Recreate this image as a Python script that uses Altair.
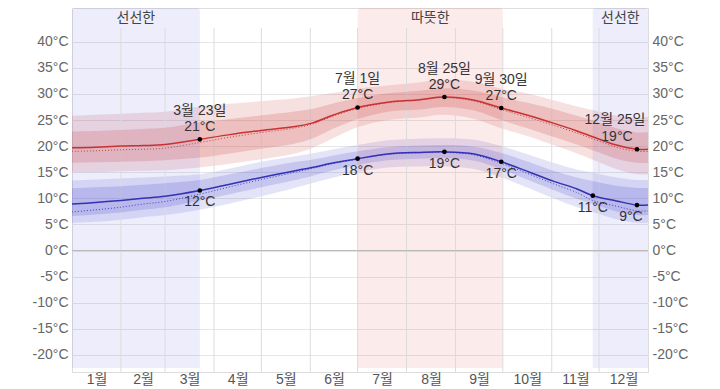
import altair as alt
import pandas as pd

# ---- data (day of year, 0 = 1월 1일) ----
days = [0, 15, 31, 45, 59, 81, 100, 120, 140, 152, 166, 181, 200, 220, 236, 255, 272, 290, 305, 320, 330, 345, 358, 365]

hi     = [19.7, 19.8, 20.0, 20.1, 20.3, 21.3, 22.2, 23.0, 23.7, 24.4, 26.0, 27.4, 28.4, 28.9, 29.4, 28.8, 27.3, 25.8, 24.4, 22.9, 21.8, 20.2, 19.4, 19.4]
hi_dot = [19.0, 19.1, 19.3, 19.4, 19.6, 20.7, 21.7, 22.6, 23.4, 24.2, 25.8, 27.2, 28.3, 28.8, 29.3, 28.6, 27.0, 25.4, 24.0, 22.5, 21.4, 19.8, 19.0, 19.0]
hi_p90 = [25.8, 26.0, 26.2, 26.4, 26.6, 27.6, 28.1, 28.6, 29.1, 29.6, 30.2, 31.0, 31.6, 32.2, 32.7, 32.3, 31.0, 30.0, 28.8, 27.6, 26.9, 25.8, 25.4, 25.6]
hi_p75 = [22.8, 22.9, 23.1, 23.3, 23.5, 24.5, 25.2, 25.9, 26.6, 27.1, 28.2, 29.2, 30.1, 30.6, 31.1, 30.6, 29.4, 28.2, 27.1, 25.8, 24.9, 23.4, 22.6, 22.7]
hi_p25 = [16.8, 16.9, 17.0, 17.1, 17.3, 17.8, 18.6, 19.5, 20.4, 21.4, 23.4, 25.2, 26.6, 27.0, 27.5, 26.8, 25.0, 23.3, 21.8, 20.3, 19.2, 17.6, 16.8, 16.8]
hi_p10 = [15.0, 15.0, 15.2, 15.3, 15.4, 15.9, 16.6, 17.5, 18.5, 19.6, 21.6, 23.6, 25.0, 25.5, 26.0, 25.2, 23.4, 21.8, 20.2, 18.6, 17.4, 15.6, 14.6, 14.6]

lo     = [8.9, 9.2, 9.6, 10.0, 10.4, 11.5, 12.7, 14.0, 15.2, 15.9, 16.8, 17.6, 18.5, 18.8, 18.9, 18.5, 17.0, 15.0, 13.3, 11.8, 10.5, 9.5, 8.7, 8.7]
lo_dot = [7.4, 7.8, 8.3, 8.9, 9.4, 10.8, 12.2, 13.6, 14.9, 15.7, 16.7, 17.5, 18.4, 18.7, 18.8, 18.3, 16.7, 14.6, 12.8, 11.1, 9.6, 8.5, 7.6, 7.6]
lo_p90 = [13.4, 13.6, 13.8, 14.0, 14.2, 14.6, 15.7, 17.0, 18.0, 18.6, 19.4, 20.2, 21.1, 21.4, 21.5, 21.2, 20.0, 18.3, 16.8, 15.5, 14.9, 14.0, 13.5, 13.5]
lo_p75 = [11.9, 12.1, 12.3, 12.6, 12.9, 13.5, 14.6, 15.8, 16.9, 17.4, 18.2, 19.0, 19.8, 20.1, 20.2, 19.9, 18.7, 16.9, 15.3, 14.0, 13.3, 12.4, 12.0, 12.0]
lo_p25 = [6.6, 6.9, 7.3, 7.8, 8.3, 9.6, 10.8, 12.1, 13.4, 14.3, 15.4, 16.4, 17.3, 17.6, 17.7, 17.2, 15.6, 13.4, 11.6, 9.9, 8.9, 7.5, 6.8, 6.8]
lo_p10 = [5.3, 5.5, 5.9, 6.4, 6.8, 7.8, 9.0, 10.4, 11.9, 12.9, 14.0, 15.0, 15.9, 16.1, 16.1, 15.6, 14.0, 11.9, 10.0, 8.3, 7.4, 6.0, 5.3, 5.3]

# annotations
hi_ann_day  = [81, 181, 236, 272, 358]
hi_ann_val  = [21.3, 27.4, 29.4, 27.3, 19.4]
hi_ann_date = ["3월 23일", "7월 1일", "8월 25일", "9월 30일", "12월 25일"]
hi_ann_temp = ["21°C", "27°C", "29°C", "27°C", "19°C"]
lo_ann_day  = [81, 181, 236, 272, 330, 358]
lo_ann_val  = [11.5, 17.6, 18.9, 17.0, 10.5, 8.7]
lo_ann_temp = ["12°C", "18°C", "19°C", "17°C", "11°C", "9°C"]

# seasons
season_start = [0, 181, 330]
season_end   = [81, 273, 365]
season_name  = ["선선한", "따뜻한", "선선한"]
season_kind  = ["cool", "warm", "cool"]

# months
month_labels = ["1월", "2월", "3월", "4월", "5월", "6월", "7월", "8월", "9월", "10월", "11월", "12월"]
month_mid = [15.5, 45, 74.5, 105, 135.5, 166, 196.5, 227.5, 258, 288.5, 319, 349.5]
month_bounds = [31, 59, 90, 120, 151, 181, 212, 243, 273, 304, 334]
y_ticks = [-20, -15, -10, -5, 0, 5, 10, 15, 20, 25, 30, 35, 40]

# ---- tables ----
df = pd.DataFrame(dict(day=days, hi=hi, hi_dot=hi_dot, hi_p90=hi_p90, hi_p75=hi_p75,
                       hi_p25=hi_p25, hi_p10=hi_p10, lo=lo, lo_dot=lo_dot, lo_p90=lo_p90,
                       lo_p75=lo_p75, lo_p25=lo_p25, lo_p10=lo_p10))
hi_ann = pd.DataFrame(dict(day=hi_ann_day, val=hi_ann_val, date=hi_ann_date, temp=hi_ann_temp))
lo_ann = pd.DataFrame(dict(day=lo_ann_day, val=lo_ann_val, temp=lo_ann_temp))
seasons = pd.DataFrame(dict(start=season_start, end=season_end, name=season_name, kind=season_kind))
seasons["mid"] = (seasons["start"] + seasons["end"]) / 2
bounds = pd.DataFrame(dict(day=month_bounds))
zero = pd.DataFrame(dict(v=[0]))

W, H = 576, 364
xs = alt.Scale(domain=[0, 365], nice=False, zero=False)
ys = alt.Scale(domain=[-23.26, 46.45], nice=False, zero=False)

FONT = "Liberation Sans, Arial, Noto Sans CJK KR"
month_expr = "[" + ",".join("'%s'" % m for m in month_labels) + "]"
mid_expr = "[" + ",".join(str(m) for m in month_mid) + "]"

x_axis = alt.Axis(values=month_mid, labelExpr=f"{month_expr}[indexof({mid_expr}, datum.value)]",
                  ticks=False, domain=False, grid=False, labelFontSize=14, labelColor="#555",
                  labelPadding=0, title=None, labelFont=FONT, orient="bottom")
left_axis = alt.Axis(values=y_ticks, labelExpr="datum.value + '°C'", ticks=False, domain=False,
                     grid=True, gridColor="#e6e6e6", labelFontSize=14, labelColor="#666",
                     labelPadding=4, title=None, orient="left", labelFont=FONT)
right_axis = alt.Axis(values=y_ticks, labelExpr="datum.value + '°C'", ticks=False, domain=False,
                      grid=False, labelFontSize=14, labelColor="#666", labelPadding=4,
                      title=None, orient="right", labelFont=FONT)

INTERP = "catmull-rom"
base = alt.Chart(df)

season_rect = alt.Chart(seasons).mark_rect(cornerRadiusTopLeft=3, cornerRadiusTopRight=3).encode(
    x=alt.X("start:Q", scale=xs, axis=None), x2="end:Q",
    y=alt.value(0), y2=alt.value(360),
    color=alt.Color("kind:N", scale=alt.Scale(domain=["cool", "warm"], range=["#5050e6", "#e63c3c"]), legend=None),
    opacity=alt.value(0.1),
)
season_text = alt.Chart(seasons).mark_text(fontSize=14, color="#444", font=FONT, baseline="middle").encode(
    x=alt.X("mid:Q", scale=xs, axis=None), y=alt.value(10), text="name:N")

vgrid = alt.Chart(bounds).mark_rule(color="#dcdcdc", strokeWidth=1).encode(
    x=alt.X("day:Q", scale=xs, axis=None), y=alt.value(20), y2=alt.value(H))
zero_rule = alt.Chart(zero).mark_rule(color="#b8b8b8", strokeWidth=1).encode(
    y=alt.Y("v:Q", scale=ys, axis=None), x=alt.value(0), x2=alt.value(W))

def band(lo_f, hi_f, color, op, axis=None):
    return base.mark_area(interpolate=INTERP, color=color, opacity=op).encode(
        x=alt.X("day:Q", scale=xs, axis=None),
        y=alt.Y(f"{lo_f}:Q", scale=ys, axis=axis), y2=f"{hi_f}:Q")

def line(field, color, width, dash=None, axis_x=None):
    kw = dict(interpolate=INTERP, color=color, strokeWidth=width)
    if dash:
        kw["strokeDash"] = dash
    return base.mark_line(**kw).encode(
        x=alt.X("day:Q", scale=xs, axis=axis_x),
        y=alt.Y(f"{field}:Q", scale=ys, axis=None))

red_outer = band("hi_p10", "hi_p90", "#d04848", 0.17, axis=left_axis)
red_inner = band("hi_p25", "hi_p75", "#c83c3c", 0.2)
blue_outer = band("lo_p10", "lo_p90", "#4848d0", 0.15, axis=right_axis)
blue_inner = band("lo_p25", "lo_p75", "#3c3cc8", 0.18)

red_dot = line("hi_dot", "#c84040", 1, dash=[1, 2])
blue_dot = line("lo_dot", "#4040c0", 1, dash=[1, 2])
red_line = line("hi", "#c83232", 1.5, axis_x=x_axis)
blue_line = line("lo", "#3232b4", 1.5)

hi_pts = alt.Chart(hi_ann).mark_point(filled=True, color="black", size=22, opacity=1).encode(
    x=alt.X("day:Q", scale=xs, axis=None), y=alt.Y("val:Q", scale=ys, axis=None))
lo_pts = alt.Chart(lo_ann).mark_point(filled=True, color="black", size=22, opacity=1).encode(
    x=alt.X("day:Q", scale=xs, axis=None), y=alt.Y("val:Q", scale=ys, axis=None))

def txt(data, field, dy, dx=0):
    return alt.Chart(data).mark_text(fontSize=14, color="#333", font=FONT, baseline="middle", dy=dy, dx=dx).encode(
        x=alt.X("day:Q", scale=xs, axis=None), y=alt.Y("val:Q", scale=ys, axis=None), text=f"{field}:N")

hi_main = hi_ann[hi_ann.day < 350]
hi_edge = hi_ann[hi_ann.day >= 350]
lo_main = lo_ann[lo_ann.day < 350]
lo_edge = lo_ann[lo_ann.day >= 350]

texts = [txt(hi_main, "date", -28), txt(hi_main, "temp", -12),
         txt(hi_edge, "date", -29, -22), txt(hi_edge, "temp", -12, -20),
         txt(lo_main, "temp", 12), txt(lo_edge, "temp", 12, -6)]

chart = alt.layer(
    red_outer, blue_outer, season_rect, vgrid, zero_rule,
    red_inner, blue_inner, red_dot, blue_dot, red_line, blue_line,
    hi_pts, lo_pts, *texts, season_text,
).resolve_axis(y="independent", x="independent").properties(
    width=W, height=H,
    padding={"left": 64, "top": 0, "right": 48, "bottom": 16},
    autosize=alt.AutoSizeParams(type="none"),
).configure_view(stroke=None).configure(font=FONT)

chart.save("out.html", embed_options={"renderer": "svg", "actions": False})
